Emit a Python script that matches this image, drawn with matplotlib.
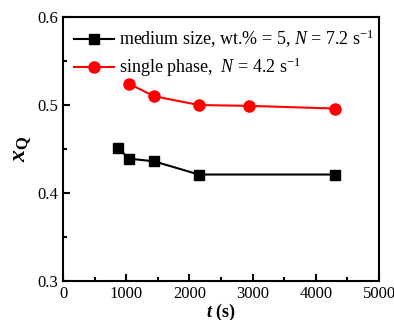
import matplotlib.pyplot as plt
from matplotlib.ticker import MultipleLocator

plt.rcParams['font.family'] = 'Liberation Serif'
plt.rcParams['mathtext.fontset'] = 'custom'
plt.rcParams['mathtext.rm'] = 'Liberation Serif'
plt.rcParams['mathtext.it'] = 'Liberation Serif:italic'
plt.rcParams['mathtext.bf'] = 'Liberation Serif:bold'
plt.rcParams['mathtext.bfit'] = 'Liberation Serif:italic:bold'

# medium size, wt.% = 5
t_medium = [870, 1050, 1440, 2150, 4300]
xq_medium = [0.451, 0.439, 0.436, 0.421, 0.421]
# single phase
t_single = [1050, 1440, 2150, 2950, 4300]
xq_single = [0.524, 0.510, 0.500, 0.499, 0.496]

fig = plt.figure(figsize=(3.94, 3.2), dpi=100)
ax = fig.add_axes([63/394, 1 - 281/320, (379-63)/394, (281-17)/320])

ax.plot(t_medium, xq_medium, color='black', marker='s', markersize=7, lw=1.5,
        label=r'medium size, wt.% = 5, $\it{N}$ = 7.2 s$^{-1}$')
ax.plot(t_single, xq_single, color='red', marker='o', markersize=8, lw=1.5,
        label=r'single phase,  $\it{N}$ = 4.2 s$^{-1}$')

ax.set_xlim(0, 5000)
ax.set_ylim(0.3, 0.6)
ax.xaxis.set_major_locator(MultipleLocator(1000))
ax.xaxis.set_minor_locator(MultipleLocator(500))
ax.yaxis.set_major_locator(MultipleLocator(0.1))
ax.yaxis.set_minor_locator(MultipleLocator(0.05))
ax.tick_params(which='both', direction='in', labelsize=12, width=1.5)
ax.tick_params(which='major', length=5)
ax.tick_params(which='minor', length=3)
for s in ax.spines.values():
    s.set_linewidth(1.5)

ax.set_xlabel(r'$\mathbfit{t}$ (s)', fontsize=13, fontweight='bold', labelpad=0)
ax.set_ylabel(r'$\mathbfit{x}_{\mathbf{Q}}$', fontsize=17, labelpad=2)

ax.legend(loc='upper left', frameon=False, fontsize=13, handlelength=2.2,
          handletextpad=0.3, borderaxespad=0.2, labelspacing=0.3)

fig.savefig('out.png', dpi=100)
